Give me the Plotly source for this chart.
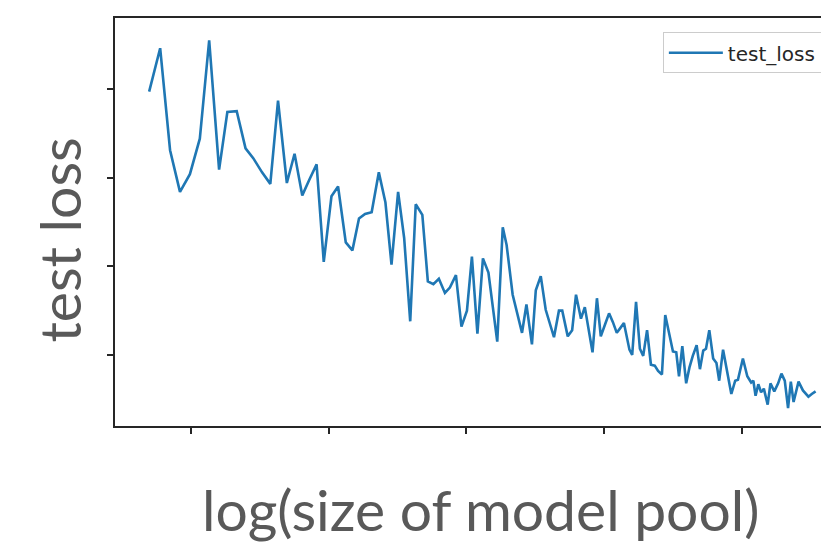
import plotly.graph_objects as go

# log(size of model pool) and the measured test loss at each pool size
log_size = [
    3.924, 3.944, 3.962, 3.980, 3.998, 4.016, 4.033, 4.051, 4.066, 4.083,
    4.099, 4.113, 4.129, 4.144, 4.158, 4.174, 4.188, 4.202, 4.215, 4.228,
    4.241, 4.255, 4.267, 4.281, 4.293, 4.305, 4.316, 4.328, 4.341, 4.353,
    4.364, 4.376, 4.387, 4.398, 4.408, 4.420, 4.430, 4.440, 4.450, 4.461,
    4.470, 4.481, 4.491, 4.501, 4.510, 4.520, 4.530, 4.540, 4.548, 4.556,
    4.566, 4.573, 4.584, 4.593, 4.601, 4.609, 4.619, 4.626, 4.635, 4.644,
    4.652, 4.659, 4.668, 4.674, 4.684, 4.692, 4.699, 4.708, 4.715, 4.722,
    4.729, 4.737, 4.744, 4.752, 4.759, 4.766, 4.773, 4.779, 4.786, 4.796,
    4.801, 4.808, 4.815, 4.821, 4.828, 4.835, 4.842, 4.848, 4.855, 4.861,
    4.869, 4.875, 4.881, 4.886, 4.892, 4.899, 4.905, 4.911, 4.918, 4.924,
    4.930, 4.935, 4.941, 4.948, 4.954, 4.959, 4.966, 4.973, 4.981, 4.988,
    4.993, 5.002, 5.010, 5.017, 5.021, 5.025, 5.030, 5.035, 5.040, 5.047,
    5.052, 5.059, 5.066, 5.072, 5.078, 5.084, 5.089, 5.094, 5.103, 5.111,
    5.121, 5.127, 5.134,
]
test_loss = [
    0.597, 0.646, 0.531, 0.484, 0.504, 0.544, 0.655, 0.509, 0.574, 0.575,
    0.533, 0.522, 0.506, 0.493, 0.587, 0.494, 0.527, 0.480, 0.498, 0.515,
    0.405, 0.479, 0.490, 0.427, 0.418, 0.454, 0.459, 0.461, 0.506, 0.472,
    0.402, 0.484, 0.432, 0.338, 0.470, 0.458, 0.383, 0.380, 0.386, 0.370,
    0.376, 0.390, 0.332, 0.350, 0.411, 0.324, 0.409, 0.393, 0.354, 0.315,
    0.444, 0.424, 0.368, 0.346, 0.325, 0.357, 0.312, 0.373, 0.389, 0.351,
    0.335, 0.320, 0.350, 0.350, 0.321, 0.328, 0.368, 0.341, 0.354, 0.328,
    0.303, 0.364, 0.321, 0.335, 0.347, 0.337, 0.325, 0.330, 0.336, 0.306,
    0.300, 0.360, 0.307, 0.299, 0.328, 0.289, 0.288, 0.282, 0.278, 0.345,
    0.320, 0.304, 0.303, 0.276, 0.310, 0.268, 0.286, 0.299, 0.311, 0.284,
    0.305, 0.307, 0.328, 0.296, 0.291, 0.271, 0.306, 0.284, 0.256, 0.271,
    0.272, 0.296, 0.276, 0.269, 0.271, 0.254, 0.267, 0.258, 0.262, 0.244,
    0.268, 0.259, 0.268, 0.279, 0.271, 0.240, 0.270, 0.247, 0.270, 0.260,
    0.253, 0.256, 0.259,
]

# tick positions are marked but left unlabelled
x_ticks = [4.0, 4.25, 4.5, 4.75, 5.0]
y_ticks = [0.3, 0.4, 0.5, 0.6]
x_tick_labels = ["", "", "", "", ""]
y_tick_labels = ["", "", "", ""]

x_title = "log(size of model pool)"
y_title = "test loss"

spine = "#262626"
title_font = dict(family="Lato, Open Sans, sans-serif", size=57, color="#595959")

fig = go.Figure()
fig.add_trace(go.Scatter(
    x=log_size, y=test_loss, mode="lines", name="test_loss",
    line=dict(color="#1f77b4", width=2.6),
))

fig.update_layout(
    width=821, height=548,
    margin=dict(l=115, r=0, t=18, b=122, autoexpand=False),
    paper_bgcolor="white", plot_bgcolor="white",
    showlegend=True,
    legend=dict(
        x=0.776, y=0.965, xanchor="left", yanchor="top",
        bgcolor="white", bordercolor="#cccccc", borderwidth=1,
        font=dict(family="DejaVu Sans", size=20, color="#262626"),
        itemwidth=54,
    ),
    xaxis=dict(
        range=[3.862, 5.1438], tickvals=x_ticks, ticktext=x_tick_labels,
        showgrid=False, zeroline=False, showline=True, linecolor=spine,
        linewidth=1.5, mirror=True, ticks="outside", ticklen=6,
        tickwidth=1.5, tickcolor=spine,
    ),
    yaxis=dict(
        range=[0.2199, 0.6801], tickvals=y_ticks, ticktext=y_tick_labels,
        showgrid=False, zeroline=False, showline=True, linecolor=spine,
        linewidth=1.5, mirror=False, ticks="outside", ticklen=6,
        tickwidth=1.5, tickcolor=spine,
    ),
    annotations=[
        dict(text=x_title, xref="paper", yref="paper", x=0.518, y=-0.203,
             xanchor="center", yanchor="middle", showarrow=False, font=title_font),
        dict(text=y_title, xref="paper", yref="paper", x=-0.08, y=0.456,
             xanchor="center", yanchor="middle", textangle=-90, showarrow=False,
             font=title_font),
    ],
)

fig.write_html("out.html")
